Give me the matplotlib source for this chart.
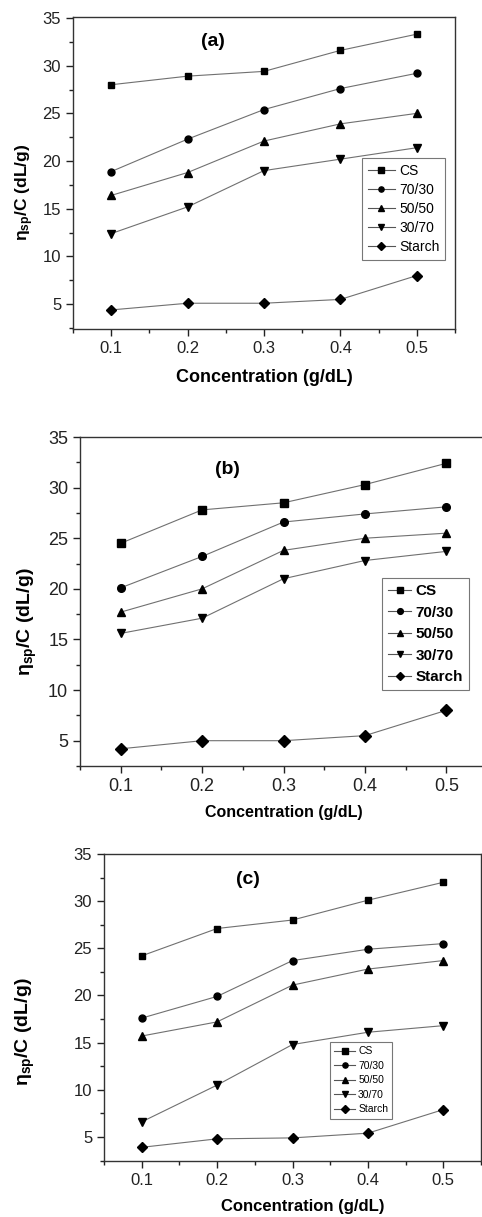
import matplotlib
matplotlib.use("Agg")
import matplotlib.pyplot as plt
from matplotlib.ticker import MultipleLocator, AutoMinorLocator

plt.rcParams['font.family'] = ['Liberation Sans', 'DejaVu Sans']
plt.rcParams['mathtext.fontset'] = 'custom'
plt.rcParams['mathtext.rm'] = 'Liberation Sans'
plt.rcParams['mathtext.it'] = 'Liberation Sans:italic'
plt.rcParams['mathtext.bf'] = 'Liberation Sans:bold'

conc = [0.1, 0.2, 0.3, 0.4, 0.5]
series_names = ["CS", "70/30", "50/50", "30/70", "Starch"]
markers = ["s", "o", "^", "v", "D"]

# panel (a)
a_cs = [28.0, 28.9, 29.4, 31.6, 33.3]
a_7030 = [18.9, 22.3, 25.4, 27.6, 29.2]
a_5050 = [16.4, 18.8, 22.1, 23.9, 25.0]
a_3070 = [12.4, 15.2, 19.0, 20.2, 21.4]
a_starch = [4.4, 5.1, 5.1, 5.5, 8.0]

# panel (b)
b_cs = [24.5, 27.8, 28.5, 30.3, 32.4]
b_7030 = [20.1, 23.2, 26.6, 27.4, 28.1]
b_5050 = [17.7, 20.0, 23.8, 25.0, 25.5]
b_3070 = [15.6, 17.1, 21.0, 22.8, 23.7]
b_starch = [4.2, 5.0, 5.0, 5.5, 8.0]

# panel (c)
c_cs = [24.2, 27.1, 28.0, 30.1, 32.0]
c_7030 = [17.6, 19.9, 23.7, 24.9, 25.5]
c_5050 = [15.7, 17.2, 21.1, 22.8, 23.7]
c_3070 = [6.6, 10.5, 14.8, 16.1, 16.8]
c_starch = [3.9, 4.8, 4.9, 5.4, 7.9]

W, H = 482, 1217
fig = plt.figure(figsize=(W / 100, H / 100), dpi=100)


def fx(px):
    return px / W


def fy(py):
    return 1 - py / H


panels = [
    dict(data=[a_cs, a_7030, a_5050, a_3070, a_starch], box=(73, 455, 17, 329), ylim=(2.4, 35.1),
         tick=12, label="(a)", labpos=(213, 41), xl=(264, 378, 13), yl=(25, 192, 12.5),
         leg=(362, 158, 10, False, 0.37, 2.0), msize=5),
    dict(data=[b_cs, b_7030, b_5050, b_3070, b_starch], box=(80, 487, 437, 766), ylim=(2.5, 35.0),
         tick=13, label="(b)", labpos=(227, 470), xl=(284, 813, 11.5), yl=(27, 622, 14),
         leg=(382, 578, 11, True, 0.49, 1.5), msize=5.5),
    dict(data=[c_cs, c_7030, c_5050, c_3070, c_starch], box=(104, 481, 854, 1161), ylim=(2.45, 35.0),
         tick=12, label="(c)", labpos=(248, 880), xl=(303, 1207, 12), yl=(25, 1032, 14),
         leg=(330, 1042, 7.5, False, 0.44, 2.0), msize=5),
]

for p in panels:
    l, r, t, b = p["box"]
    ax = fig.add_axes([fx(l), fy(b), (r - l) / W, (b - t) / H])
    for vals, name, mk in zip(p["data"], series_names, markers):
        ms = p["msize"] + (0.5 if mk in ("^", "v", "D") else 0)
        ax.plot(conc, vals, color="#707070", lw=0.8, marker=mk, markersize=ms,
                markerfacecolor="black", markeredgecolor="black", label=name)
    ax.set_xlim(0.05, 0.55)
    ax.set_ylim(*p["ylim"])
    ax.xaxis.set_major_locator(MultipleLocator(0.1))
    ax.xaxis.set_minor_locator(AutoMinorLocator(2))
    ax.yaxis.set_major_locator(MultipleLocator(5))
    ax.yaxis.set_minor_locator(AutoMinorLocator(2))
    ax.set_xticks(conc)
    ax.set_xticklabels([f"{c:.1f}" for c in conc])
    ax.tick_params(which="major", direction="out", length=5, width=1, labelsize=p["tick"],
                   top=False, right=False, colors="#222222")
    ax.tick_params(which="minor", direction="out", length=3, width=1, top=False, right=False,
                   colors="#222222")
    for s in ax.spines.values():
        s.set_linewidth(1.0)
        s.set_color("#333333")

    xlx, xly, xls = p["xl"]
    ax.set_xlabel("Concentration (g/dL)", fontsize=xls, fontweight="bold")
    ax.xaxis.set_label_coords(fx(xlx), fy(xly), transform=fig.transFigure)
    ax.xaxis.label.set_va("center")

    ylx, yly, yls = p["yl"]
    ax.set_ylabel("\u03b7" + r"$_{\mathbf{sp}}$/C (dL/g)", fontsize=yls, fontweight="bold")
    ax.yaxis.set_label_coords(fx(ylx), fy(yly), transform=fig.transFigure)
    ax.yaxis.label.set_va("center")

    fig.text(fx(p["labpos"][0]), fy(p["labpos"][1]), p["label"], ha="center", va="center",
             fontsize=14, fontweight="bold")

    lx, ly, lfs, lbold, lspacing, hlen = p["leg"]
    leg = ax.legend(loc="upper left", bbox_to_anchor=(fx(lx), fy(ly)), bbox_transform=fig.transFigure,
                    borderaxespad=0, fancybox=False, framealpha=1, edgecolor="#777777",
                    prop={"size": lfs, "weight": "bold" if lbold else "normal"},
                    handlelength=hlen, handletextpad=0.3, labelspacing=lspacing,
                    borderpad=0.4, markerscale=0.75)
    leg.get_frame().set_linewidth(0.8)
    for h in leg.get_lines():
        h.set_color("#555555")
        h.set_markerfacecolor("black")
        h.set_markeredgecolor("black")

fig.savefig("out.png", dpi=100, facecolor="white")
